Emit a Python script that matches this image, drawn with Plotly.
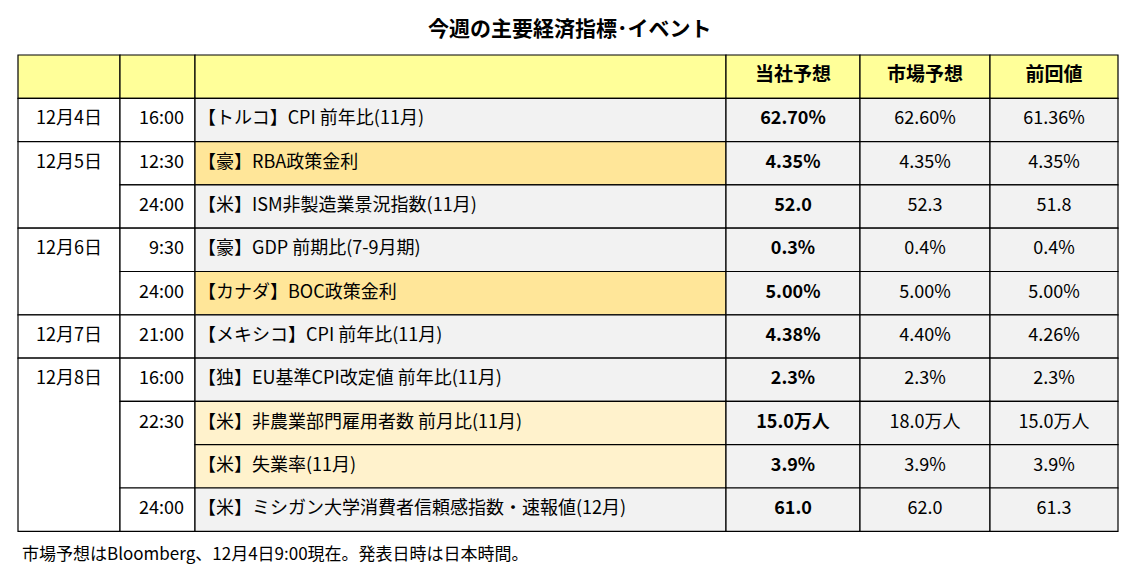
import plotly.graph_objects as go

TITLE = "今週の主要経済指標･イベント"
NOTE = "市場予想はBloomberg、12月4日9:00現在。発表日時は日本時間。"

header = ["", "", "", "当社予想", "市場予想", "前回値"]
dates = ["12月4日", "12月5日", "", "12月6日", "", "12月7日", "12月8日", "", "", ""]
times = ["16:00", "12:30", "24:00", "9:30", "24:00", "21:00", "16:00", "22:30", "", "24:00"]
events = [
    "【トルコ】CPI 前年比(11月)",
    "【豪】RBA政策金利",
    "【米】ISM非製造業景況指数(11月)",
    "【豪】GDP 前期比(7-9月期)",
    "【カナダ】BOC政策金利",
    "【メキシコ】CPI 前年比(11月)",
    "【独】EU基準CPI改定値 前年比(11月)",
    "【米】非農業部門雇用者数 前月比(11月)",
    "【米】失業率(11月)",
    "【米】ミシガン大学消費者信頼感指数・速報値(12月)",
]
own = ["62.70%", "4.35%", "52.0", "0.3%", "5.00%", "4.38%", "2.3%", "15.0万人", "3.9%", "61.0"]
market = ["62.60%", "4.35%", "52.3", "0.4%", "5.00%", "4.40%", "2.3%", "18.0万人", "3.9%", "62.0"]
prev = ["61.36%", "4.35%", "51.8", "0.4%", "5.00%", "4.26%", "2.3%", "15.0万人", "3.9%", "61.3"]
event_kind = ["g", "o", "g", "g", "o", "g", "g", "y", "y", "g"]

KIND_COLOR = {"g": "#F2F2F2", "o": "#FFE699", "y": "#FFF2CC"}
HEADER_COLOR = "#FFFF99"
FONT = "Noto Sans CJK JP"

# column edges (px) and row geometry
col_x = [18, 120, 195, 726, 860, 990, 1118]
top, row_h = 55, 43.3
n = len(events)
PAGE_MARGIN = 8  # default body margin of the html page


def row_y(i):
    # i = -1 is the header row
    return top + (i + 1) * row_h


def groups(labels):
    # merge blank labels into the cell above
    out = []
    for i, lab in enumerate(labels):
        if lab or not out:
            out.append([i, i, lab])
        else:
            out[-1][1] = i
    return out


shapes = []


def cell(c, r0, r1, fill):
    shapes.append(dict(type="rect", xref="x", yref="y",
                       x0=col_x[c], x1=col_x[c + 1], y0=row_y(r0), y1=row_y(r1 + 1),
                       fillcolor=fill, line=dict(color="black", width=1.2), layer="below"))


for c in range(6):
    cell(c, -1, -1, HEADER_COLOR)
for r0, r1, _ in groups(dates):
    cell(0, r0, r1, "white")
for r0, r1, _ in groups(times):
    cell(1, r0, r1, "white")
for i in range(n):
    cell(2, i, i, KIND_COLOR[event_kind[i]])
    for c in (3, 4, 5):
        cell(c, i, i, "#F2F2F2")

fig = go.Figure()
mid = [row_y(i) + row_h / 2 for i in range(n)]


def text_trace(xs, ys, texts, pos, bold=False, size=18):
    t = [f"<b>{s}</b>" if bold and s else s for s in texts]
    fig.add_trace(go.Scatter(x=xs, y=ys, text=t, mode="text", textposition=pos,
                             textfont=dict(family=FONT, size=size, color="black"),
                             hoverinfo="skip", showlegend=False))


text_trace([(col_x[c] + col_x[c + 1]) / 2 for c in (3, 4, 5)], [row_y(-1) + row_h / 2] * 3,
           header[3:], "middle center", bold=True, size=19)
text_trace([69] * n, mid, dates, "middle center")
text_trace([184] * n, mid, times, "middle left")
text_trace([198] * n, mid, events, "middle right")
text_trace([793] * n, mid, own, "middle center", bold=True)
text_trace([925] * n, mid, market, "middle center")
text_trace([1054] * n, mid, prev, "middle center")

fig.add_annotation(x=570, y=27, xref="x", yref="y", text=f"<b>{TITLE}</b>", showarrow=False,
                   font=dict(family=FONT, size=21, color="black"))
fig.add_annotation(x=20, y=552, xref="x", yref="y", text=NOTE, showarrow=False, xanchor="left",
                   font=dict(family=FONT, size=17, color="black"))

fig.update_layout(
    width=1138, height=571, margin=dict(l=0, r=0, t=0, b=0),
    plot_bgcolor="white", paper_bgcolor="white", shapes=shapes,
    xaxis=dict(range=[PAGE_MARGIN, 1138 + PAGE_MARGIN], visible=False, fixedrange=True),
    yaxis=dict(range=[571 + PAGE_MARGIN, PAGE_MARGIN], visible=False, fixedrange=True),
)
fig.write_html("out.html")
